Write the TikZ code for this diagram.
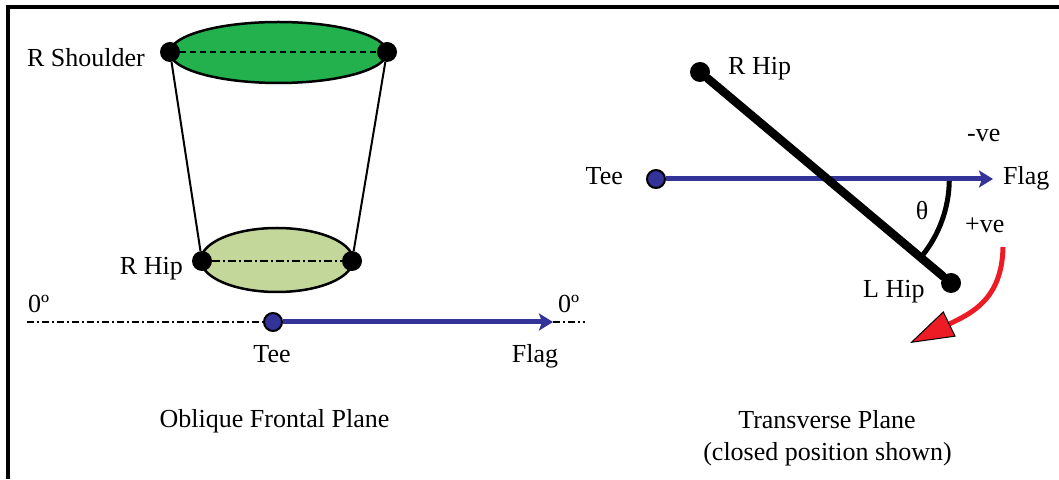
\documentclass[tikz,border=0pt]{standalone}
\usepackage{fontspec}
\setmainfont{Liberation Serif}
\usetikzlibrary{arrows.meta, positioning}

\definecolor{torsogreen}{RGB}{34,177,76}
\definecolor{pelvisgreen}{RGB}{196,215,155}
\definecolor{lineblue}{RGB}{51,51,153}
\definecolor{arrowred}{RGB}{237,28,36}

\begin{document}
\begin{tikzpicture}[x=1pt, y=1pt,
    every node/.style={font=\fontsize{26}{30}\selectfont, inner sep=0pt},
    joint/.style={circle, fill=black, minimum size=20pt, inner sep=0pt},
    teedot/.style={circle, draw=black, line width=2pt, fill=lineblue, minimum size=18pt, inner sep=0pt},
    flagline/.style={draw=lineblue, line width=5pt, -{Stealth[length=14pt, width=17pt, inset=3pt]}},
    zeroline/.style={line width=1.5pt, dash pattern=on 7pt off 3pt on 2pt off 3pt},
    seg/.style={line width=8.5pt, line cap=round},
    rot/.style={draw=arrowred, line width=5pt, -{Triangle[length=44pt, width=28pt, color=black, fill=arrowred, line width=1pt]}}
]
    \useasboundingbox (0,0) rectangle (1059,479);
    \draw[line width=4pt] (8,0) -- (8,472) -- (1059,472);

    % oblique frontal plane
    \draw[line width=2.5pt, fill=torsogreen] (278.5,426.5) ellipse [x radius=108.5pt, y radius=30.5pt];
    \draw[line width=2.5pt, fill=pelvisgreen] (277,219) ellipse [x radius=76pt, y radius=32pt];
    \node[joint] (rsh) at (170,427) {};
    \node[joint] (lsh) at (387,427) {};
    \node[joint] (rhip) at (202,218) {};
    \node[joint] (lhip) at (352,218) {};
    \draw[line width=2pt] (rsh) -- (rhip) (lsh) -- (lhip);
    \draw[line width=2pt, dash pattern=on 6pt off 4pt] (rsh) -- (lsh);
    \draw[line width=1.8pt, dash pattern=on 8pt off 3pt on 2pt off 3pt] (rhip) -- (lhip);

    \coordinate (zl) at (27,157);
    \coordinate (zr) at (585,157);
    \coordinate (flagtipL) at (553,157);
    \node[teedot] (teeL) at (273,157) {};
    \draw[zeroline] (zl) -- (teeL);
    \draw[zeroline] (flagtipL) -- (zr);
    \draw[flagline] (teeL) -- (flagtipL);

    \node[anchor=base east] (rshlbl) at (145,412) {R Shoulder};
    \node[anchor=base east] (rhiplbl) at (183,204) {R Hip};
    \node[anchor=base west] (zerol) at (28,166) {0º};
    \node[anchor=base west] (zeror) at (558,166) {0º};
    \node[anchor=base] (teelblL) at (272,116) {Tee};
    \node[anchor=base] (flaglblL) at (535,116) {Flag};
    \node[anchor=base] (frontal) at (274.5,52) {Oblique Frontal Plane};

    % transverse plane
    \node[joint] (trhip) at (700,407) {};
    \node[joint] (tlhip) at (951,196) {};
    \node[teedot] (teeR) at (656,300) {};
    \coordinate (flagtipR) at (993,300);
    \coordinate (pivot) at (intersection of trhip--tlhip and teeR--flagtipR);
    \draw[line width=5pt] ([shift={(0:122pt)}]pivot) arc [start angle=0, end angle=-40, radius=122pt];
    \draw[flagline] (teeR) -- (flagtipR);
    \draw[seg] (trhip) -- (tlhip);

    \coordinate (rotstart) at (1003,232);
    \coordinate (rotend) at (910,136);
    \draw[rot] (rotstart) .. controls (1002,180) and (972,166) .. (rotend);

    \node[anchor=base west] (rhiplblR) at (728,404) {R Hip};
    \node[anchor=base east] (teelblR) at (623,294) {Tee};
    \node[anchor=base west] (flaglblR) at (1003,294) {Flag};
    \node[anchor=base west] (neg) at (967,337) {-ve};
    \node[anchor=base] (theta) at (922,259) {θ};
    \node[anchor=base west] (pos) at (965,246) {+ve};
    \node[anchor=base west] (lhiplbl) at (863,181) {L Hip};
    \node[anchor=base] (transverse) at (827,51) {Transverse Plane};
    \node[anchor=base] (closed) at (827.5,19) {(closed position shown)};
\end{tikzpicture}
\end{document}
